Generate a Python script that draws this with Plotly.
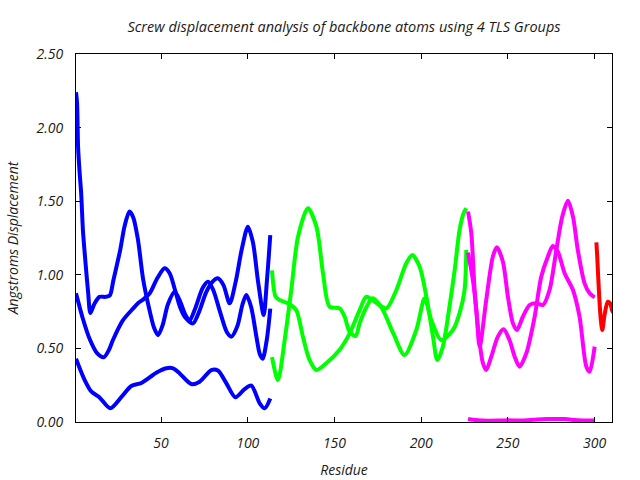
import plotly.graph_objects as go

# ---- Data (residue, screw displacement in Angstroms) ----
blue_a_x = [1, 1.6, 2.2, 3, 4, 5, 6, 7, 8, 9.3, 11.5, 14.5, 18, 20.5, 22.5, 26.5, 29, 31.8, 34, 36.7,
            39.7, 43, 46, 48.3, 51, 54, 57.9, 61, 64, 66.5, 70, 74, 77.1, 80, 84, 88, 90.6, 94, 97,
            99.2, 102, 105, 107, 108.6, 111, 113]
blue_a_y = [2.24, 2.17, 1.87, 1.71, 1.55, 1.30, 1.15, 1.01, 0.88, 0.74, 0.80, 0.85, 0.85, 0.86, 0.96,
            1.17, 1.33, 1.43, 1.39, 1.24, 0.97, 0.78, 0.64, 0.59, 0.66, 0.80, 0.885, 0.82, 0.73, 0.69,
            0.78, 0.91, 0.953, 0.90, 0.75, 0.61, 0.58, 0.65, 0.80, 0.863, 0.78, 0.58, 0.46, 0.43,
            0.56, 0.77]

blue_b_x = [1, 5, 9, 13, 17, 20, 22.3, 28, 34, 37, 40, 43.5, 48, 52.1, 55, 58, 61, 64, 68.4, 72, 76,
            79.5, 82.8, 86, 89.6, 93, 96.5, 100.1, 103, 106, 109.2, 111, 113]
blue_b_y = [0.874, 0.70, 0.56, 0.47, 0.44, 0.49, 0.557, 0.69, 0.772, 0.81, 0.835, 0.874, 0.98, 1.044,
            1.01, 0.90, 0.78, 0.71, 0.67, 0.75, 0.88, 0.95, 0.976, 0.93, 0.806, 0.95, 1.17, 1.327,
            1.22, 0.95, 0.727, 0.95, 1.27]

blue_c_x = [1, 6, 9.9, 14.3, 20.8, 27.2, 32.9, 38.7, 47.3, 53.1, 56.9, 60.8, 67.5, 72.3, 79, 82.8,
            87.7, 92.9, 98.2, 102.1, 106.9, 109.8, 113]
blue_c_y = [0.43, 0.285, 0.206, 0.17, 0.093, 0.17, 0.245, 0.265, 0.335, 0.365, 0.365, 0.33, 0.258,
            0.274, 0.353, 0.35, 0.263, 0.168, 0.224, 0.247, 0.127, 0.093, 0.16]

green_a_x = [114, 116.1, 118.4, 124.2, 128, 131.8, 135.7, 139.6, 145.3, 152.9, 158.7, 164.5, 168.4,
             173.2, 179.9, 185.7, 191.4, 194.9, 199.1, 203, 206.8, 209.3, 212.5, 216.5, 219.5,
             222.1, 224.5, 226]
green_a_y = [1.03, 0.851, 0.829, 0.80, 0.76, 0.58, 0.42, 0.353, 0.399, 0.489, 0.60, 0.76, 0.851,
             0.817, 0.772, 0.897, 1.078, 1.134, 1.055, 0.851, 0.58, 0.421, 0.512, 0.80, 1.05,
             1.304, 1.42, 1.452]

green_b_x = [114, 117.4, 121.3, 125.1, 129, 134.7, 139.6, 143.4, 147.2, 153, 155.9, 158.7, 162.2,
             164.5, 168.4, 172, 177, 184, 190.4, 197.2, 202, 205.8, 211.6, 218.3, 222.1, 225, 226]
green_b_y = [0.44, 0.285, 0.557, 0.897, 1.259, 1.452, 1.327, 1.01, 0.783, 0.772, 0.715, 0.613,
             0.584, 0.67, 0.78, 0.84, 0.78, 0.60, 0.455, 0.625, 0.84, 0.693, 0.557, 0.625, 0.738,
             0.897, 1.168]

magenta_a_x = [227, 228.9, 230.8, 233.3, 235.6, 237.5, 240.4, 244.2, 247.5, 250.9, 253.9, 256.7,
               260.6, 265.4, 269.2, 273, 275.9, 278.8, 282.7, 287.5, 291.3, 295.2, 297.1, 300]
magenta_a_y = [1.43, 1.282, 0.897, 0.58, 0.399, 0.353, 0.444, 0.58, 0.63, 0.557, 0.444, 0.376,
               0.467, 0.715, 0.987, 1.123, 1.196, 1.157, 1.01, 0.897, 0.715, 0.376, 0.342, 0.512]

magenta_b_x = [227, 229.8, 231.8, 233.7, 237.5, 241.3, 243.6, 247.1, 250, 252.9, 255.2, 258.6,
               262.5, 266.4, 270.2, 274, 277.9, 281.3, 284.6, 287.5, 290.3, 294.2, 297.1, 300]
magenta_b_y = [1.15, 0.965, 0.76, 0.512, 0.829, 1.123, 1.187, 1.089, 0.851, 0.67, 0.625, 0.715,
               0.795, 0.806, 0.795, 0.897, 1.168, 1.395, 1.503, 1.395, 1.168, 0.942, 0.874, 0.847]

magenta_c_x = [227, 230, 235, 245, 250, 258, 265, 272, 283, 290, 300]
magenta_c_y = [0.02, 0.015, 0.01, 0.01, 0.012, 0.01, 0.015, 0.02, 0.02, 0.012, 0.01]

red_x = [301, 301.5, 302.5, 303.5, 304.4, 305.7, 307.6, 309, 310, 311]
red_y = [1.22, 1.12, 0.88, 0.70, 0.625, 0.727, 0.817, 0.806, 0.76, 0.74]

x_ticks = [50, 100, 150, 200, 250, 300]
y_ticks = [0.0, 0.5, 1.0, 1.5, 2.0, 2.5]

title_text = "Screw displacement analysis of backbone atoms using 4 TLS Groups"
x_title = "Residue"
y_title = "Angstroms Displacement"

BLUE, GREEN, MAGENTA, RED = "#0000ff", "#00ff00", "#ff00ff", "#ff0000"

series = [
    (blue_a_x, blue_a_y, BLUE), (blue_b_x, blue_b_y, BLUE), (blue_c_x, blue_c_y, BLUE),
    (green_a_x, green_a_y, GREEN), (green_b_x, green_b_y, GREEN),
    (magenta_a_x, magenta_a_y, MAGENTA), (magenta_b_x, magenta_b_y, MAGENTA),
    (magenta_c_x, magenta_c_y, MAGENTA),
    (red_x, red_y, RED),
]

fig = go.Figure()
for xs, ys, col in series:
    fig.add_trace(go.Scatter(x=xs, y=ys, mode="lines",
                             line=dict(color=col, width=4, shape="spline", smoothing=0.8),
                             showlegend=False, hoverinfo="skip"))

FONT = "Open Sans"
FS = 14
TXT = "#1a1a1a"
fig.update_layout(
    width=640, height=480,
    margin=dict(l=76, r=28, t=54, b=58, autoexpand=False),
    paper_bgcolor="white", plot_bgcolor="white",
    title=dict(text=title_text, x=0.5, xref="paper", y=1 - 27 / 480, yref="container",
               yanchor="middle", xanchor="center",
               font=dict(family=FONT, size=14.5, color=TXT, style="italic")),
    showlegend=False,
)
fig.update_xaxes(
    range=[1, 310], tickvals=x_ticks, ticktext=[str(v) for v in x_ticks],
    ticks="inside", ticklen=5, tickcolor="black", showline=True, linecolor="black", linewidth=1,
    mirror="ticks", showgrid=False, zeroline=False, ticklabelstandoff=8, automargin=False,
    tickfont=dict(family=FONT, size=FS, color=TXT, style="italic"),
    title=dict(text=x_title, standoff=14,
               font=dict(family=FONT, size=FS, color=TXT, style="italic")),
)
fig.update_yaxes(
    range=[0, 2.5], tickvals=y_ticks, ticktext=[f"{v:.2f}" for v in y_ticks],
    ticks="inside", ticklen=5, tickcolor="black", showline=True, linecolor="black", linewidth=1,
    mirror="ticks", showgrid=False, zeroline=False, ticklabelstandoff=9, automargin=False,
    tickfont=dict(family=FONT, size=FS, color=TXT, style="italic"),
    title=dict(text=y_title, standoff=14,
               font=dict(family=FONT, size=FS, color=TXT, style="italic")),
)

fig.write_html("out.html")
